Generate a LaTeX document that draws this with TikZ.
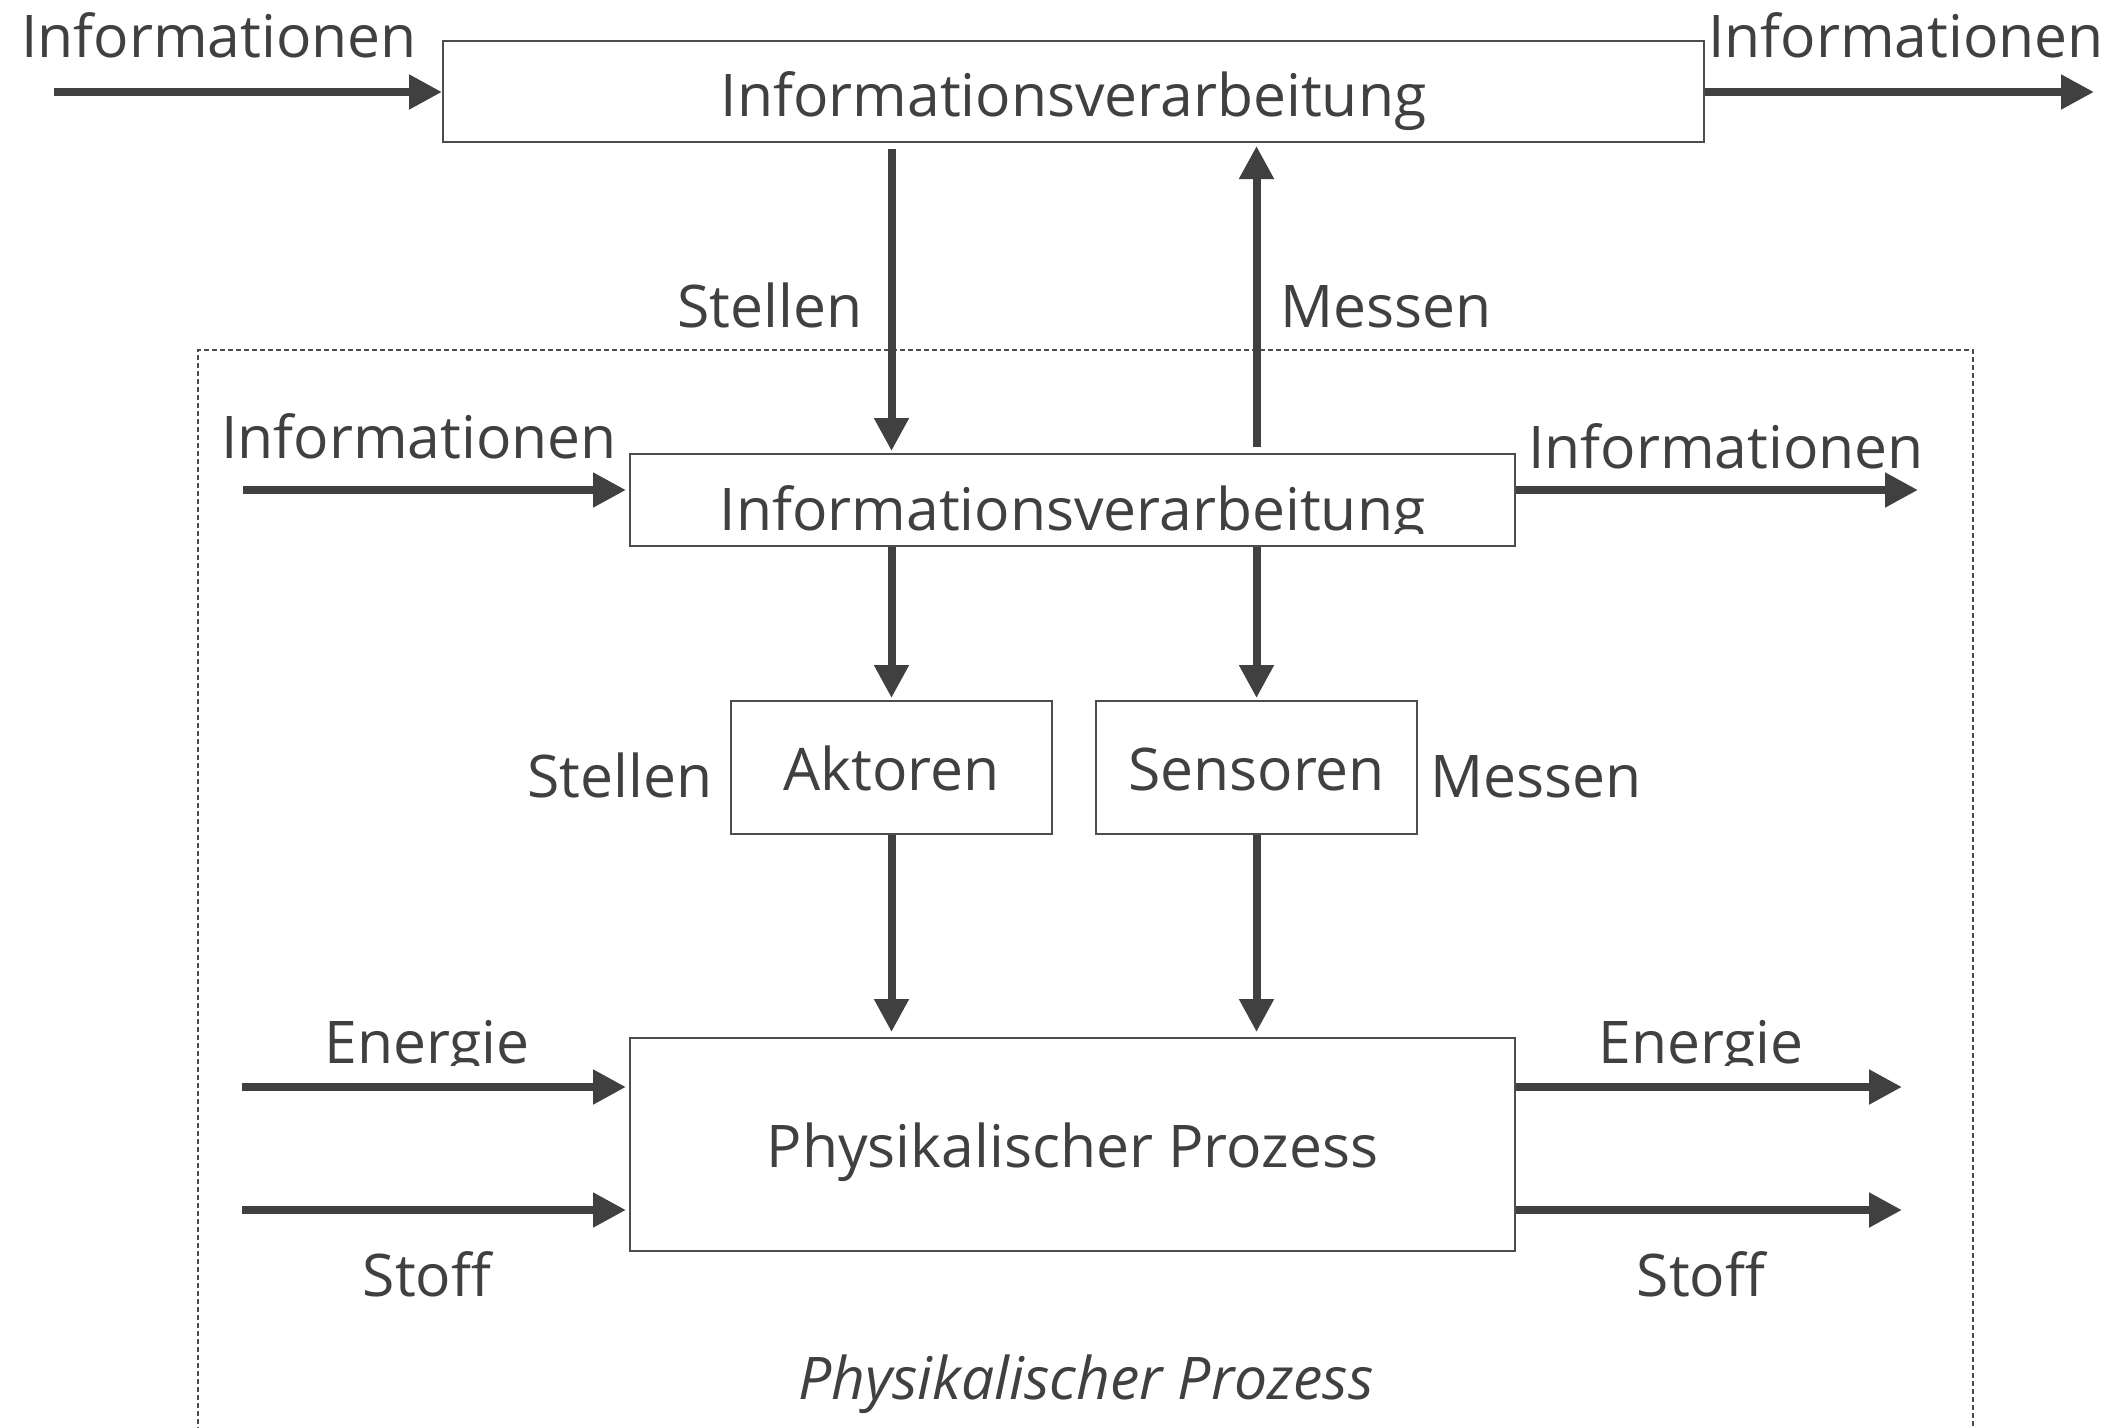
\documentclass[tikz,border=0pt]{standalone}
\usepackage{fontspec}
\setmainfont{Open Sans}
\usetikzlibrary{calc}
\usetikzlibrary{arrows.meta}
\definecolor{ink}{HTML}{404040}
\definecolor{rim}{HTML}{4D4D4D}

\begin{document}
\begin{tikzpicture}[x=1pt, y=-1pt]% pixel coordinates, y downwards
    \tikzstyle{block} = [draw=rim, line width=2pt, inner sep=0pt, text=ink, text height=45pt, text depth=0pt, font=\fontsize{58.8}{70}\selectfont]
    \tikzstyle{txt} = [text=ink, inner sep=0pt, anchor=base, font=\fontsize{58.8}{70}\selectfont]
    \tikzstyle{flow} = [ink, line width=8pt, -{Triangle[length=33pt, width=33pt]}]
    \tikzstyle{frame} = [rim, line width=2pt, dash pattern=on 5pt off 3pt]
    \useasboundingbox (0, 0) rectangle (2104, 1427);
    \draw[frame] (198, 1440) |- (1973, 350) -- (1973, 1440);
    \node[block, text height=49pt, minimum width=1261pt, minimum height=101pt] (ivtop) at (1073.5, 91.5) {Informationsverarbeitung};
    \node[block, minimum width=885pt, minimum height=92pt] (ivmid) at (1072.5, 500) {};
    \begin{scope}
        \clip (ivmid.north west) rectangle ($(ivmid.south east) + (0, -14)$);
        \node[txt] (ivmid text) at (1072.5, 530) {Informationsverarbeitung};
    \end{scope}
    \node[block, minimum width=321pt, minimum height=133pt] (akt) at (891.5, 767.5) {Aktoren};
    \node[block, minimum width=321pt, minimum height=133pt] (sens) at (1256.5, 767.5) {Sensoren};
    \node[block, minimum width=885pt, minimum height=213pt] (proz) at (1072.5, 1144.5) {Physikalischer Prozess};
    \node[txt] (info 1) at (219, 57) {Informationen};
    \node[txt] (info 2) at (1906, 57) {Informationen};
    \node[txt] (stellen 1) at (770, 327) {Stellen};
    \node[txt] (messen 1) at (1386, 327) {Messen};
    \node[txt] (info 3) at (419, 458) {Informationen};
    \node[txt] (info 4) at (1726, 468) {Informationen};
    \node[txt] (stellen 2) at (620, 797) {Stellen};
    \node[txt] (messen 2) at (1536, 797) {Messen};
    \begin{scope}
        \clip (0, 0) rectangle (2104, 1065);
        \node[txt] (energie 1) at (427, 1063) {Energie};
        \node[txt] (energie 2) at (1701, 1063) {Energie};
    \end{scope}
    \node[txt] (stoff 1) at (427, 1296) {Stoff};
    \node[txt] (stoff 2) at (1701, 1296) {Stoff};
    \node[txt, font=\fontsize{58.8}{70}\selectfont\itshape] (title) at (1086, 1399) {Physikalischer Prozess};
    \coordinate (src 1) at (54, 92);
    \coordinate (dst 1) at (2094, 92);
    \coordinate (src 2) at (243, 490);
    \coordinate (dst 2) at (1918, 490);
    \coordinate (src 3) at (242, 1087);
    \coordinate (dst 3) at (1902, 1087);
    \coordinate (src 4) at (242, 1210);
    \coordinate (dst 4) at (1902, 1210);
    \draw[flow] (src 1) -- (src 1 -| ivtop.west);
    \draw[flow] (ivtop.east |- dst 1) -- (dst 1);
    \draw[flow, shorten <=6pt, shorten >=2pt] (akt.north |- ivtop.south) -- (akt.north |- ivmid.north);
    \draw[flow, shorten <=6pt, shorten >=3pt] (sens.north |- ivmid.north) -- (sens.north |- ivtop.south);
    \draw[flow, shorten >=3pt] (src 2) -- (src 2 -| ivmid.west);
    \draw[flow] (ivmid.east |- dst 2) -- (dst 2);
    \draw[flow, shorten >=2pt] (akt.north |- ivmid.south) -- (akt.north);
    \draw[flow, shorten >=2pt] (sens.north |- ivmid.south) -- (sens.north);
    \draw[flow, shorten >=5pt] (akt.south) -- (akt.south |- proz.north);
    \draw[flow, shorten >=5pt] (sens.south) -- (sens.south |- proz.north);
    \draw[flow, shorten >=3pt] (src 3) -- (src 3 -| proz.west);
    \draw[flow, shorten >=3pt] (src 4) -- (src 4 -| proz.west);
    \draw[flow] (proz.east |- dst 3) -- (dst 3);
    \draw[flow] (proz.east |- dst 4) -- (dst 4);
\end{tikzpicture}
\end{document}
